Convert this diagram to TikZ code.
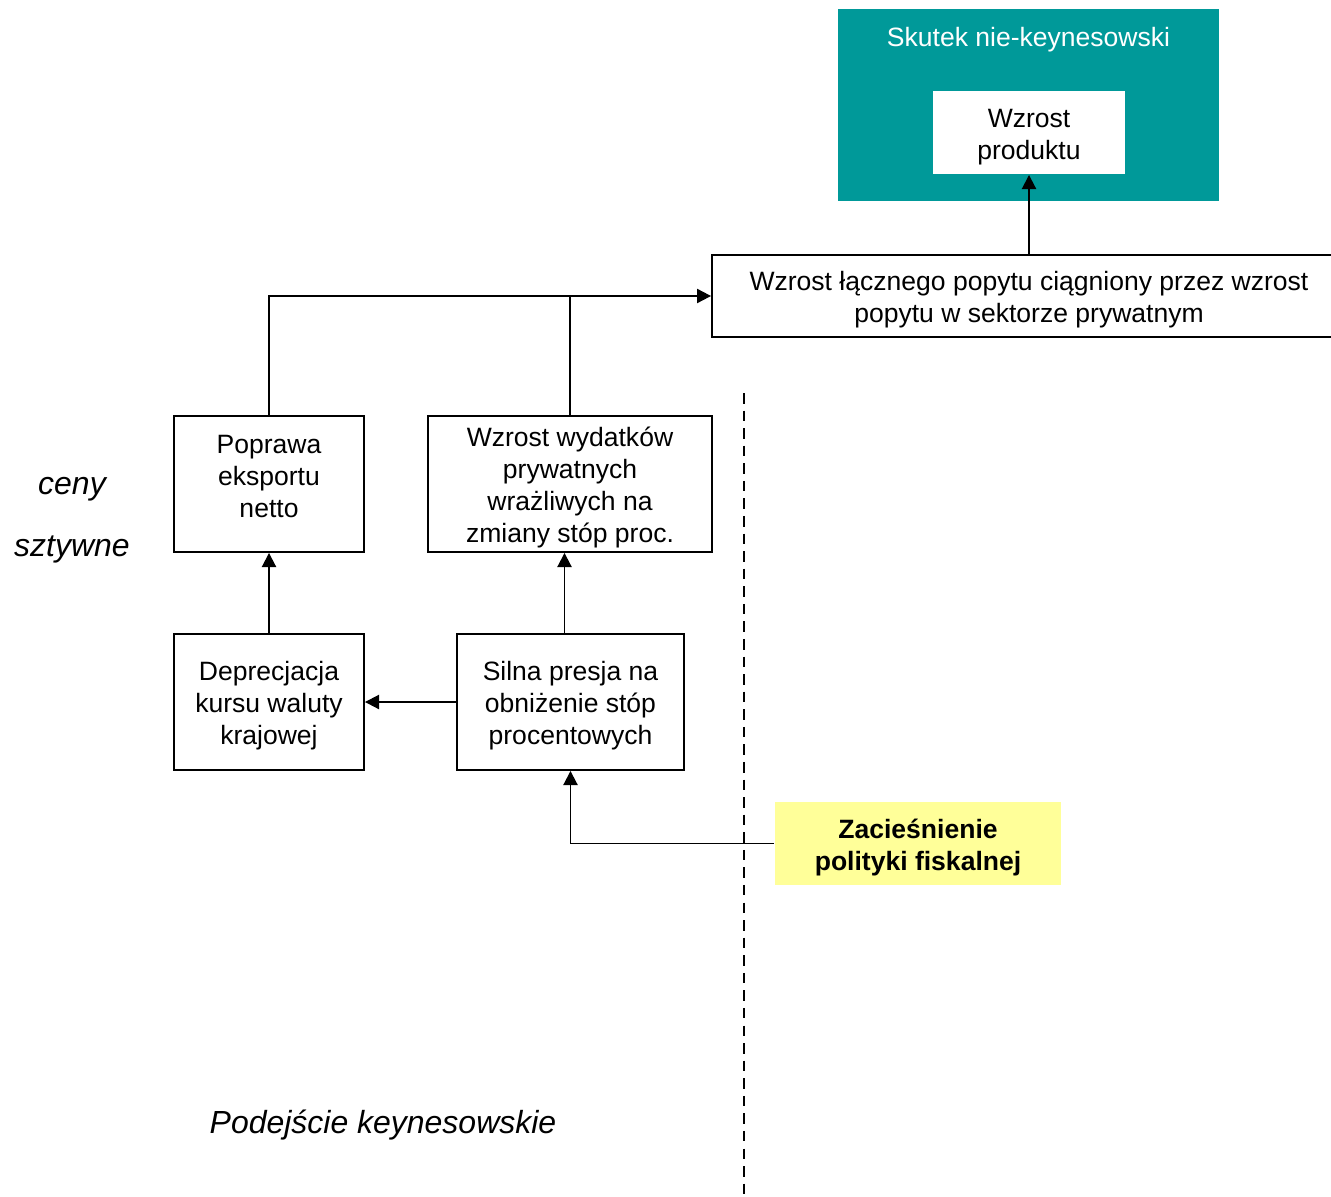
\documentclass[tikz,border=0pt]{standalone}
\usepackage{fontspec}
\setmainfont{Liberation Sans}
\usepackage{tikz}
\usetikzlibrary{positioning, arrows.meta, calc}
\usepackage{xcolor}

\definecolor{tealfill}{HTML}{009999}
\definecolor{yellowfill}{HTML}{FFFF99}

% lowers box text a little
\newcommand{\boxstrut}{\rule{0pt}{15.5pt}}

\tikzset{
  box/.style={draw, line width=1.1pt, align=center, inner sep=0pt,
    font=\fontsize{15.1}{18.2}\selectfont},
  arr/.style={line width=1.1pt, -{Triangle[length=8pt,width=8pt]}},
  conn/.style={line width=1.1pt},
  sidelabel/.style={font=\fontsize{18.2}{20}\selectfont\itshape}
}

\begin{document}
\begin{tikzpicture}[x=0.02cm, y=-0.02cm]
  \useasboundingbox (0,0) rectangle (1331,1196);

  % non-keynesian effect
  \node[fill=tealfill, minimum width=7.62cm, minimum height=3.84cm] (effect) at (1028.5,105) {};
  \node[text=white, font=\fontsize{15.1}{18.2}\selectfont] (effecttitle) at (1028.5,40) {Skutek nie-keynesowski};
  \node[box, draw=none, fill=white, minimum width=3.84cm, minimum height=1.66cm] (output) at (1029,132.5) {\boxstrut Wzrost\\produktu};

  \node[box, minimum width=12.68cm, minimum height=1.64cm] (demand) at (1029,296)
    {\boxstrut Wzrost łącznego popytu ciągniony przez wzrost\\popytu w sektorze prywatnym};

  % boxes
  \node[box, minimum width=3.8cm, minimum height=2.72cm] (export) at (269,484) {Poprawa\\eksportu\\netto\rule[-9pt]{0pt}{9pt}};
  \node[box, minimum width=5.68cm, minimum height=2.72cm] (spending) at (570,484)
    {\boxstrut Wzrost wydatków\\prywatnych\\wrażliwych na\\zmiany stóp proc.};
  \node[box, minimum width=3.8cm, minimum height=2.72cm] (deprec) at (269,702) {\boxstrut Deprecjacja\\kursu waluty\\krajowej};
  \node[box, minimum width=4.54cm, minimum height=2.72cm] (rates) at (570.5,702)
    {\boxstrut Silna presja na\\obniżenie stóp\\procentowych};
  \node[box, draw=none, fill=yellowfill, minimum width=5.72cm, minimum height=1.66cm,
    font=\fontsize{15.1}{18.2}\selectfont\bfseries] (fiscal) at (918,843.5) {\boxstrut Zacieśnienie\\polityki fiskalnej};

  % dashed divider
  \coordinate (divtop) at (744,393);
  \coordinate (divbot) at (744,1196);
  \draw[line width=0.8pt, dash pattern=on 6pt off 4pt] (divtop) -- (divbot);

  % labels
  \node[sidelabel] (ceny) at (72,489) {ceny};
  \node[sidelabel] (sztywne) at (72,549) {sztywne};
  \node[sidelabel] (approach) at (383,1125) {Podejście keynesowskie};

  % arrows
  \draw[arr] (demand.north -| output.south) -- (output.south);
  \draw[arr] (export.north) |- (demand.west);
  \draw[conn] (spending.north) -- (spending.north |- demand.west);
  \draw[arr] ($(rates.north)+(-6,0)$) -- ($(rates.north |- spending.south)+(-6,0)$);
  \draw[arr] (deprec.north) -- (export.south);
  \draw[arr] (rates.west) -- (deprec.east);
  \draw[arr] (fiscal.west) -| (rates.south);
\end{tikzpicture}
\end{document}
